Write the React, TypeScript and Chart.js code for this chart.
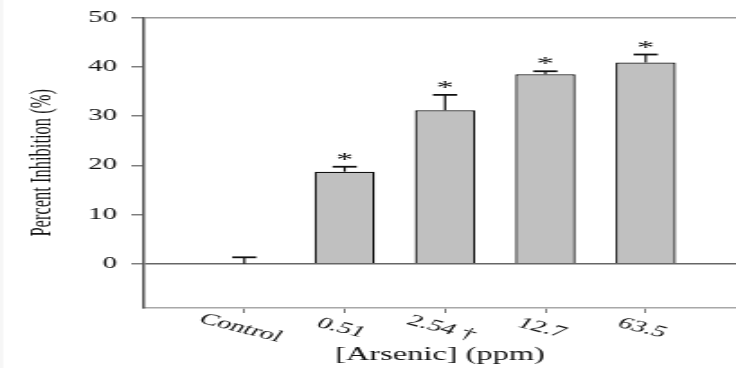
import React, { useEffect, useRef } from "react";
import { Chart, registerables } from "chart.js";

Chart.register(...registerables);

const xLabels = ["Control", "0.51", "2.54 †", "12.7", "63.5"];
const xPos = [1, 2, 3, 4, 5];
const values = [0, 18.7, 31.2, 38.5, 40.9];
const errors = [1.3, 1.0, 3.1, 0.6, 1.6];
const significant = [false, true, true, true, true];
const yTicks = [0, 10, 20, 30, 40, 50];

const INTERNAL_W = 409;
const H = 368;
const SERIF = '"Liberation Serif", "Times New Roman", serif';

const extras = {
  id: "extras",
  beforeDraw(chart: any) {
    const ctx = chart.ctx;
    ctx.save();
    ctx.fillStyle = "#ffffff";
    ctx.fillRect(0, 0, chart.width, chart.height);
    ctx.fillStyle = "#f6f6f6";
    ctx.fillRect(0, 0, 1.7, chart.height);
    ctx.restore();
  },
  afterDatasetsDraw(chart: any) {
    const ctx = chart.ctx;
    const xs = chart.scales.x;
    const ys = chart.scales.y;
    ctx.save();
    ctx.strokeStyle = "#111";
    values.forEach((v, i) => {
      const px = xs.getPixelForValue(xPos[i]);
      const y0 = ys.getPixelForValue(v);
      const y1 = ys.getPixelForValue(v + errors[i]);
      ctx.lineWidth = 1.2;
      ctx.beginPath();
      ctx.moveTo(px, y0);
      ctx.lineTo(px, y1);
      ctx.stroke();
      ctx.lineWidth = 1.8;
      ctx.beginPath();
      ctx.moveTo(px - 6.7, y1);
      ctx.lineTo(px + 6.7, y1);
      ctx.stroke();
      if (significant[i]) {
        ctx.fillStyle = "#111";
        ctx.font = `19px ${SERIF}`;
        ctx.textAlign = "center";
        ctx.textBaseline = "alphabetic";
        ctx.fillText("*", px, y1 - 1);
      }
    });
    ctx.restore();
  },
  afterDraw(chart: any) {
    const ctx = chart.ctx;
    const xs = chart.scales.x;
    ctx.save();
    ctx.fillStyle = "#111";
    ctx.font = `16px ${SERIF}`;
    ctx.textAlign = "center";
    ctx.textBaseline = "middle";
    xLabels.forEach((lab, i) => {
      const px = xs.getPixelForValue(xPos[i]);
      ctx.save();
      ctx.translate(px - 2, xs.top + 20);
      ctx.rotate((24 * Math.PI) / 180);
      ctx.fillText(lab, 0, 0);
      ctx.restore();
    });
    ctx.restore();
  },
};

export default function App() {
  const ref = useRef<HTMLCanvasElement | null>(null);

  useEffect(() => {
    document.body.style.margin = "0";
    const canvas = ref.current;
    if (!canvas) return;
    const chart = new Chart(canvas, {
      type: "bar",
      data: {
        datasets: [
          {
            data: values.map((v, i) => ({ x: xPos[i], y: v })),
            backgroundColor: "#c0c0c0",
            borderColor: "#111",
            borderWidth: 1.3,
            barPercentage: 0.6,
            categoryPercentage: 1,
          },
        ],
      },
      options: {
        animation: false,
        responsive: false,
        maintainAspectRatio: false,
        devicePixelRatio: 1,
        layout: { padding: { top: 17, left: 0, right: 0, bottom: 0 } },
        plugins: {
          legend: { display: false },
          tooltip: { enabled: false },
        },
        scales: {
          x: {
            type: "linear",
            min: 0,
            max: 5.9,
            offset: false,
            afterBuildTicks: (s: any) => {
              s.ticks = xPos.map((v) => ({ value: v }));
            },
            afterFit: (s: any) => {
              s.height = 60;
            },
            ticks: { display: false },
            grid: {
              offset: false,
              drawOnChartArea: false,
              drawTicks: true,
              tickLength: 5,
              tickColor: "#777",
              tickWidth: 1,
            },
            border: { display: true, color: "#a8a8a8", width: 1.6 },
            title: {
              display: true,
              text: "[Arsenic] (ppm)",
              color: "#111",
              font: { family: SERIF, size: 18 },
              padding: { top: 0, bottom: 2 },
            },
          },
          y: {
            type: "linear",
            min: -9,
            max: 50,
            afterBuildTicks: (s: any) => {
              s.ticks = yTicks.map((v) => ({ value: v }));
            },
            afterFit: (s: any) => {
              s.width = 80;
            },
            ticks: {
              color: "#111",
              font: { family: SERIF, size: 16 },
              padding: 8,
            },
            grid: {
              color: (c: any) =>
                c.tick && c.tick.value === 0
                  ? "#666"
                  : c.tick && c.tick.value === 50
                  ? "#9a9a9a"
                  : "rgba(0,0,0,0)",
              lineWidth: 1.5,
              tickColor: "#777",
              tickLength: 7,
              tickWidth: 1.4,
            },
            border: { display: true, color: "#555", width: 1.5 },
            title: {
              display: true,
              text: "Percent Inhibition (%)",
              color: "#111",
              font: { family: SERIF, size: 16.5 },
              padding: { top: 14, bottom: 0 },
            },
          },
        },
      },
      plugins: [extras],
    } as any);
    return () => chart.destroy();
  }, []);

  return (
    <canvas
      ref={ref}
      width={INTERNAL_W}
      height={H}
      style={{ width: "736px", height: "368px", display: "block" }}
    />
  );
}
